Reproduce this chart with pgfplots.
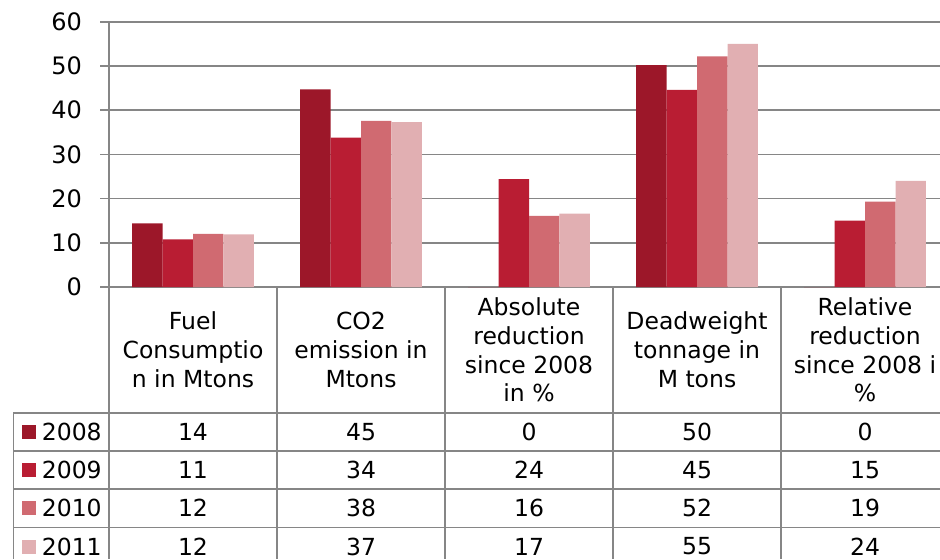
\documentclass[border=0pt]{standalone}
\usepackage{pgfplots}
\pgfplotsset{compat=1.18}
\usepackage{pgfplotstable}
\usepackage{fontspec}
\setmainfont{DejaVu Sans}

\definecolor{yrA}{HTML}{9C1729}
\definecolor{yrB}{HTML}{B91D33}
\definecolor{yrC}{HTML}{D06A71}
\definecolor{yrD}{HTML}{E1AFB2}
\definecolor{linegray}{HTML}{868686}

% shipping indicators per year
\pgfplotstableread{
cat y2008 y2009 y2010 y2011
0 14.4 10.8 12.0 11.9
1 44.7 33.8 37.6 37.3
2 0    24.4 16.1 16.6
3 50.2 44.6 52.2 55.0
4 0    15.0 19.3 24.0
}\data

\newcommand{\chartfont}{\fontsize{11.75}{14.4}\selectfont}

\begin{document}
\begin{tikzpicture}[x=0.5pt, y=0.5pt, every node/.style={font=\chartfont, text=black}]
\path[use as bounding box, clip] (0,0) rectangle (940,559);
\coordinate (plotcorner) at (109,272);

\begin{axis}[
  at={(plotcorner)}, anchor=south west, scale only axis,
  width=420pt, height=132.6pt,
  xmin=-0.5, xmax=4.5, ymin=0, ymax=60,
  enlargelimits=false,
  ytick={0,10,...,60}, xtick=\empty,
  axis lines*=left,
  axis line style={linegray, line width=0.8pt},
  tick align=outside, ytick pos=left,
  major tick length=4.5pt,
  major tick style={linegray, line width=0.8pt},
  ymajorgrids,
  grid style={linegray, line width=0.8pt},
  /pgf/number format/assume math mode=true,
  yticklabel style={font=\fontsize{12}{14.4}\selectfont, text=black},
  yticklabel shift=5.5pt,
]
\addplot[ybar, bar width=0.1815, bar shift=-0.27225, fill=yrA, draw=none] table[x=cat, y=y2008]{\data};
\addplot[ybar, bar width=0.1815, bar shift=-0.09075, fill=yrB, draw=none] table[x=cat, y=y2009]{\data};
\addplot[ybar, bar width=0.1815, bar shift=0.09075,  fill=yrC, draw=none] table[x=cat, y=y2010]{\data};
\addplot[ybar, bar width=0.1815, bar shift=0.27225,  fill=yrD, draw=none] table[x=cat, y=y2011]{\data};
\end{axis}

% data table grid
\begin{scope}[linegray, line width=0.8pt]
  \foreach \x in {109,277,445,613,781,949} \draw (\x,272) -- (\x,0);
  \foreach \y in {146.3,108.3,70,31.7,-6.6} \draw (13.3,\y) -- (949,\y);
  \draw (13.3,146.3) -- (13.3,0);
\end{scope}

% column headers
\node[align=center] at (193,209) {Fuel\\Consumptio\\n in Mtons};
\node[align=center] at (361,209) {CO2\\emission in\\Mtons};
\node[align=center] at (529,209) {Absolute\\reduction\\since 2008\\in \%};
\node[align=center] at (697,209) {Deadweight\\tonnage in\\M tons};
\node[align=center] at (865,209) {Relative\\reduction\\since 2008 i\\\%};

% series keys
\foreach \s/\yy/\col in {2008/127.3/yrA, 2009/89/yrB, 2010/50.8/yrC, 2011/12.5/yrD} {
  \fill[\col] (22,\yy-7) rectangle (36,\yy+7);
  \node[anchor=west, inner sep=0pt] at (41.5,\yy) {\s};
}

% values
\foreach \c in {0,...,4} {
  \foreach \s/\yy in {2008/127.3, 2009/89, 2010/50.8, 2011/12.5} {
    \pgfplotstablegetelem{\c}{y\s}\of\data
    \node at ({193+168*\c},\yy) {\pgfmathprintnumber[fixed,precision=0,assume math mode=true]{\pgfplotsretval}};
  }
}
\end{tikzpicture}
\end{document}
